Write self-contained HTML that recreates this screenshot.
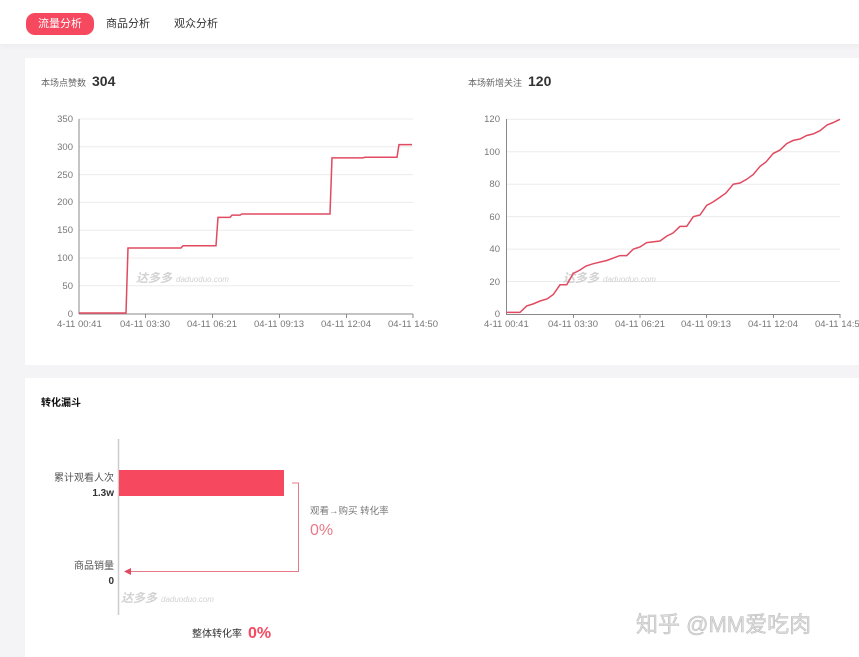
<!DOCTYPE html>
<html><head><meta charset="utf-8"><style>
body{margin:0;width:859px;height:657px;background:#f4f4f6;font-family:"Liberation Sans","Noto Sans CJK SC",sans-serif;overflow:hidden;position:relative}
.top{position:absolute;left:0;top:0;width:859px;height:44px;background:#fff;box-shadow:0 2px 6px rgba(0,0,0,0.04)}
.tab{position:absolute;top:13px;height:22px;line-height:22px;font-size:11px;color:#333}
.card{position:absolute;background:#fff}
svg text{font-family:"Liberation Sans","Noto Sans CJK SC",sans-serif}
</style></head><body>
<div class="top">
<div class="tab" style="left:26px;width:68px;background:#f6495f;color:#fff;border-radius:9px;text-align:center">流量分析</div>
<div class="tab" style="left:106px">商品分析</div>
<div class="tab" style="left:174px">观众分析</div>
</div>
<div class="card" style="left:25px;top:58px;width:834px;height:307px"></div>
<div class="card" style="left:25px;top:378px;width:834px;height:279px"></div>
<svg width="859" height="657" style="position:absolute;left:0;top:0">
<text x="41" y="86" font-size="9" fill="#666">本场点赞数</text>
<text x="92" y="86" font-size="14" fill="#333" font-weight="bold">304</text>
<text x="468" y="86" font-size="9" fill="#666">本场新增关注</text>
<text x="528" y="86" font-size="14" fill="#333" font-weight="bold">120</text>
<g stroke="#ececec" stroke-width="1">
<line x1="79" x2="413" y1="119" y2="119"/><line x1="79" x2="413" y1="146.8" y2="146.8"/><line x1="79" x2="413" y1="174.6" y2="174.6"/><line x1="79" x2="413" y1="202.4" y2="202.4"/><line x1="79" x2="413" y1="230.2" y2="230.2"/><line x1="79" x2="413" y1="258" y2="258"/><line x1="79" x2="413" y1="285.7" y2="285.7"/>
<line x1="506" x2="840" y1="119.3" y2="119.3"/><line x1="506" x2="840" y1="151.8" y2="151.8"/><line x1="506" x2="840" y1="184.2" y2="184.2"/><line x1="506" x2="840" y1="216.6" y2="216.6"/><line x1="506" x2="840" y1="249.1" y2="249.1"/><line x1="506" x2="840" y1="281.5" y2="281.5"/>
</g>
<g stroke="#888" stroke-width="1">
<line x1="79" x2="79" y1="119" y2="314"/><line x1="79" x2="413" y1="314" y2="314"/>
<line x1="506.5" x2="506.5" y1="119" y2="314.5"/><line x1="506" x2="840" y1="314.5" y2="314.5"/>
<line x1="145.5" x2="145.5" y1="314" y2="318"/><line x1="212.5" x2="212.5" y1="314" y2="318"/><line x1="279.5" x2="279.5" y1="314" y2="318"/><line x1="346.5" x2="346.5" y1="314" y2="318"/><line x1="413" x2="413" y1="314" y2="318"/>
<line x1="573.5" x2="573.5" y1="314" y2="318"/><line x1="640" x2="640" y1="314" y2="318"/><line x1="706.5" x2="706.5" y1="314" y2="318"/><line x1="773.5" x2="773.5" y1="314" y2="318"/><line x1="840" x2="840" y1="314" y2="318"/>
</g>
<g font-size="9.5" fill="#777" text-anchor="end">
<text x="73" y="122">350</text><text x="73" y="150">300</text><text x="73" y="178">250</text><text x="73" y="205">200</text><text x="73" y="233">150</text><text x="73" y="261">100</text><text x="73" y="289">50</text><text x="73" y="317">0</text>
<text x="500" y="122">120</text><text x="500" y="155">100</text><text x="500" y="187">80</text><text x="500" y="220">60</text><text x="500" y="252">40</text><text x="500" y="285">20</text><text x="500" y="317">0</text>
</g>
<g font-size="9.5" fill="#777" text-anchor="middle">
<text x="145" y="327">04-11 03:30</text><text x="212" y="327">04-11 06:21</text><text x="279" y="327">04-11 09:13</text><text x="346" y="327">04-11 12:04</text><text x="413" y="327">04-11 14:50</text>
<text x="573" y="327">04-11 03:30</text><text x="640" y="327">04-11 06:21</text><text x="706" y="327">04-11 09:13</text><text x="773" y="327">04-11 12:04</text><text x="840" y="327">04-11 14:50</text>
</g>
<g font-size="9.5" fill="#777">
<text x="57" y="327">4-11 00:41</text><text x="484" y="327">4-11 00:41</text>
</g>
<g fill="#d2d2d2" font-style="italic">
<text x="136" y="282" font-weight="bold" font-size="12">达多多</text><text x="176" y="282" font-size="8">daduoduo.com</text>
<text x="563" y="282" font-weight="bold" font-size="12">达多多</text><text x="603" y="282" font-size="8">daduoduo.com</text>
<text x="121" y="602" font-weight="bold" font-size="12">达多多</text><text x="161" y="602" font-size="8">daduoduo.com</text>
</g>
<polyline fill="none" stroke="#e14a60" stroke-width="1.5" points="79,313 126,313 128,248 181,248 183,245.7 216,245.7 218,217.4 230,217.4 232,215.1 240,215.1 242,214 330,214 332,157.9 363,157.9 365,157.3 397,157.3 399,144.6 412,144.6"/>
<polyline fill="none" stroke="#e14a60" stroke-width="1.5" points="506.7,312.4 520,312.4 526.7,305.9 533,304 540,301 547,299 553.3,294.5 560,284.8 566.7,284.8 573.3,273.4 580,270 586,266 593.3,263.7 606.7,260.5 620,255.6 626.7,255.6 633.3,249.1 640,247 646.7,242.6 660,241 666.7,236.1 673,233 680,226.4 686.7,226.4 693.3,216.7 700,215 706.7,205.3 713,202 720,197.2 726,193 733.3,184.2 740,183 746.7,179.3 753.3,174.5 760,166.4 766,162 773.3,153.4 780,150.1 786.7,143.6 793.3,140.4 800,139 806.7,135.5 813,134 820,130.7 827,125 833.3,122.5 840,119.3"/>
<text x="41" y="406" font-size="10" fill="#111" font-weight="bold">转化漏斗</text>
<line x1="118.5" x2="118.5" y1="439" y2="615" stroke="#ccc" stroke-width="1.5"/>
<rect x="119" y="470" width="165" height="26" fill="#f6495f"/>
<text x="114" y="481" font-size="10" fill="#555" text-anchor="end">累计观看人次</text>
<text x="114" y="496" font-size="10" fill="#333" text-anchor="end" font-weight="bold">1.3w</text>
<text x="114" y="569" font-size="10" fill="#555" text-anchor="end">商品销量</text>
<text x="114" y="584" font-size="10" fill="#333" text-anchor="end" font-weight="bold">0</text>
<polyline fill="none" stroke="#e87a88" stroke-width="1" points="292,483 298.5,483 298.5,571.5 128,571.5"/>
<polygon points="124,571.5 131,568 131,575" fill="#e14a60"/>
<text x="310" y="514" font-size="9.5" fill="#777">观看→购买 转化率</text>
<text x="310" y="535" font-size="16" fill="#e87a88">0%</text>
<text x="192" y="637" font-size="10" fill="#333">整体转化率</text>
<text x="248" y="638" font-size="16" fill="#f6495f" font-weight="bold">0%</text>
<text x="636" y="632" font-size="22" fill="#ddd" stroke="#bbb" stroke-width="0.5">知乎 @MM爱吃肉</text>
</svg>
</body></html>
